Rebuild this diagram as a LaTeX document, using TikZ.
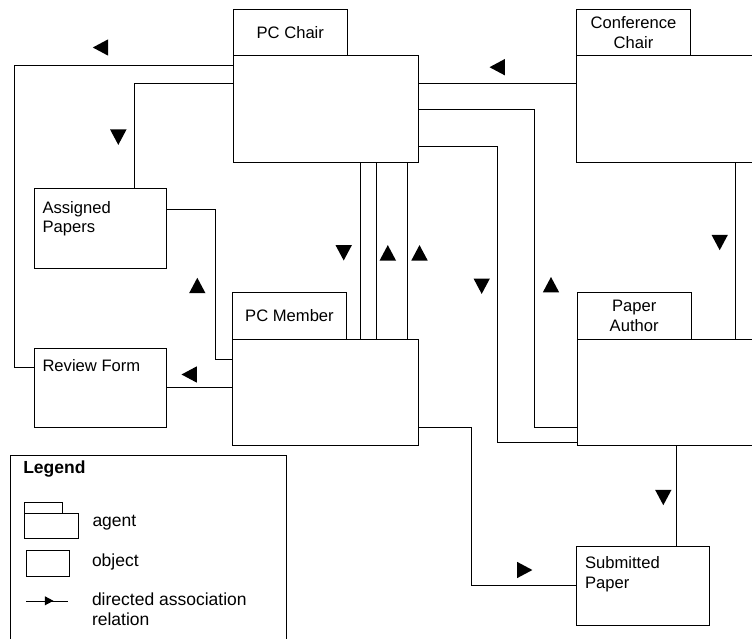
\documentclass[tikz,border=0pt]{standalone}
\usepackage{fontspec}
\setmainfont{Liberation Sans}
\newcommand\diagfont{\fontsize{16.6}{19.6}\selectfont}
\newcommand\legfont{\fontsize{17.5}{20}\selectfont}
\begin{document}
\begin{tikzpicture}[x=1pt,y=-1pt,line width=1pt,
  every node/.style={inner sep=0pt,outer sep=0pt},
  shapebox/.style={draw,anchor=north west},
  agenttab/.style={shapebox,align=center,font=\diagfont},
  boxlabel/.style={anchor=base west,align=left,font=\diagfont},
  leglabel/.style={anchor=base west,align=left,font=\legfont},
  pics/headdown/.style={code={\fill (-8.2,-7.7) -- (8.2,-7.7) -- (0,7.7) -- cycle;}},
  mdown/.style={},
  mup/.style={rotate=180},
  mleft/.style={rotate=-90},
  mright/.style={rotate=90}]
\useasboundingbox (0,0) rectangle (752,639);
\clip (0,0) rectangle (752,639);

% agents: a tab with the name above a larger box
\node[agenttab,minimum width=114,minimum height=46.4] (pcchairtab) at (233.3,9.3) {PC Chair};
\node[shapebox,minimum width=185.4,minimum height=107.3] (pcchair) at (233.3,55.7) {};
\node[agenttab,minimum width=114.4,minimum height=46.4] (confchairtab) at (576.3,9.3) {Conference\\Chair};
\node[shapebox,minimum width=200,minimum height=107.3] (confchair) at (576.3,55.7) {};
\node[agenttab,minimum width=114.4,minimum height=46.7] (pcmembertab) at (232.3,292.3) {PC Member};
\node[shapebox,minimum width=186.4,minimum height=106.7] (pcmember) at (232.3,339) {};
\node[agenttab,minimum width=114.3,minimum height=46.7] (authortab) at (577,292.3) {Paper\\Author};
\node[shapebox,minimum width=200,minimum height=106.7] (author) at (577,339) {};

% objects (a two-line label sits on the baseline of its last line)
\node[shapebox,minimum width=132,minimum height=79.7] (assigned) at (34.7,189) {};
\node[boxlabel] (assignedtxt) at (42.5,232.7) {Assigned\\Papers};
\node[shapebox,minimum width=132,minimum height=79.3] (review) at (34.7,348) {};
\node[boxlabel] (reviewtxt) at (42.5,371) {Review Form};
\node[shapebox,minimum width=132.6,minimum height=79] (submitted) at (576.7,546.7) {};
\node[boxlabel] (submittedtxt) at (585,588.3) {Submitted\\Paper};

% directed associations
\draw (pcchair.west |- 0,65.3) -- (14.7,65.3) |- (review.west |- 0,367.7);
\pic[mleft] at (100.5,47.5) {headdown};
\draw (pcchair.west |- 0,83.7) -| (assigned.north -| 134,0);
\pic[mdown] at (118.3,137.2) {headdown};
\draw (assigned.east |- 0,209.3) -| (215.7,359) -- (pcmember.west |- 0,359);
\pic[mup] at (197.3,285.5) {headdown};
\draw (pcmember.west |- 0,387.3) -- (review.east |- 0,387.3);
\pic[mleft] at (189.2,374.5) {headdown};

\draw (pcchair.south -| 360,0) -- (pcmember.north -| 360,0);
\pic[mdown] at (343.7,252.8) {headdown};
\draw (pcchair.south -| 376,0) -- (pcmember.north -| 376,0);
\pic[mup] at (387.8,252.8) {headdown};
\draw (pcchair.south -| 407.3,0) -- (pcmember.north -| 407.3,0);
\pic[mup] at (419.5,252.8) {headdown};

\draw (pcchair.east |- 0,83.7) -- (confchair.west |- 0,83.7);
\pic[mleft] at (497.2,67.2) {headdown};
\draw (pcchair.east |- 0,109.7) -| (534.7,427.3) -- (author.west |- 0,427.3);
\pic[mup] at (551,284.7) {headdown};
\draw (pcchair.east |- 0,146.7) -| (497.7,442.7) -- (author.west |- 0,442.7);
\pic[mdown] at (481.7,286.2) {headdown};
\draw (confchair.south -| 735.7,0) -- (author.north -| 735.7,0);
\pic[mdown] at (719.7,242.5) {headdown};

\draw (pcmember.east |- 0,427.7) -| (471,585.3) -- (submitted.west |- 0,585.3);
\pic[mright] at (524.7,570) {headdown};
\draw (author.south -| 676,0) -- (submitted.north -| 676,0);
\pic[mdown] at (663.3,497.5) {headdown};

% legend
\node[shapebox,minimum width=275.3,minimum height=200] (legend) at (10.7,455.7) {};
\node[anchor=base west,font=\legfont\bfseries] (legendtitle) at (23.3,473.3) {Legend};
\node[shapebox,minimum width=38.7,minimum height=11] (legagenttab) at (24,502.5) {};
\node[shapebox,minimum width=54.3,minimum height=25] (legagent) at (24,513.3) {};
\node[leglabel] (legagenttxt) at (92.5,526.7) {agent};
\node[shapebox,minimum width=42.7,minimum height=26] (legobject) at (26.5,550.7) {};
\node[leglabel] (legobjecttxt) at (92,566.7) {object};
\coordinate (relstart) at (26,601.5);
\coordinate (relend) at (68.3,601.5);
\draw (relstart) -- (relend);
\pic[mright,scale=0.55] at (49.2,600.8) {headdown};
\node[leglabel] (legreltxt) at (92,625) {directed association\\relation};
\end{tikzpicture}
\end{document}
